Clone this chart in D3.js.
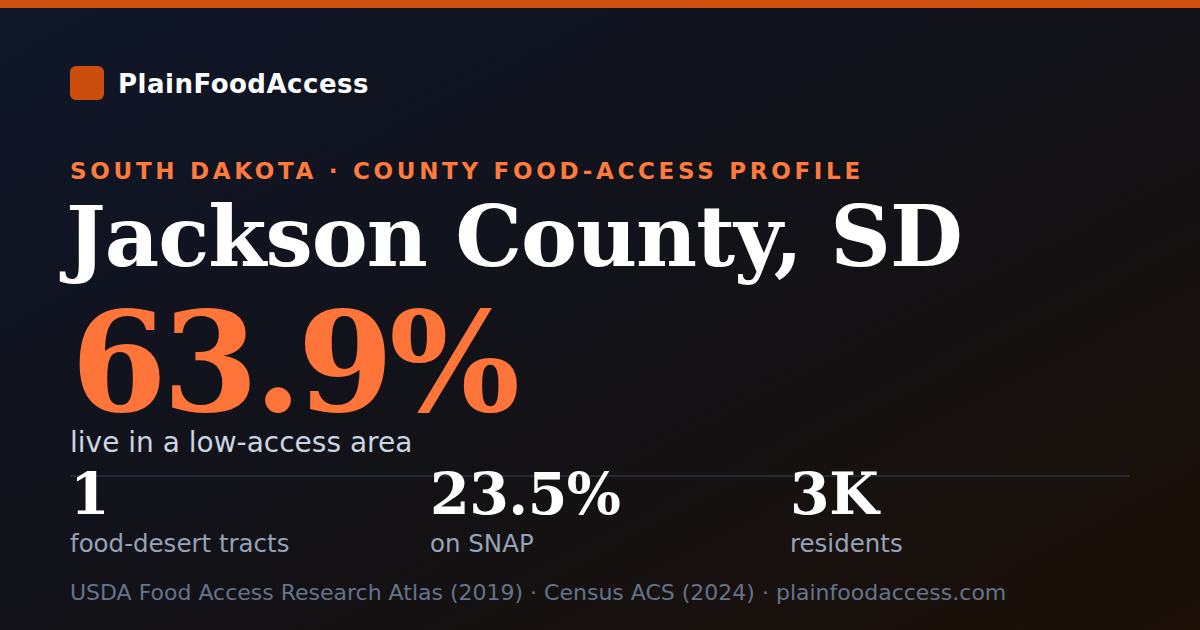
<!DOCTYPE html>
<html>
<head>
<meta charset="utf-8">
<script src="https://cdn.jsdelivr.net/npm/d3@7"></script>
<style>
  html, body { margin: 0; padding: 0; background: #0f172a; }
  svg { display: block; }
</style>
</head>
<body>
<svg id="card" width="1200" height="630"></svg>
<script>
const brand = "PlainFoodAccess";
const kicker = "SOUTH DAKOTA · COUNTY FOOD-ACCESS PROFILE";
const county = "Jackson County, SD";
const headline = "63.9%";
const headlineLabel = "live in a low-access area";
const statValues = ["1", "23.5%", "3K"];
const statLabels = ["food-desert tracts", "on SNAP", "residents"];
const sources = ["USDA Food Access Research Atlas (2019)", "Census ACS (2024)", "plainfoodaccess.com"];

const W = 1200, H = 630;
const SANS = "'DejaVu Sans', Verdana, sans-serif";
const SERIF = "'DejaVu Serif', Georgia, serif";

const svg = d3.select("#card");

const defs = svg.append("defs");
const grad = defs.append("linearGradient")
  .attr("id", "bg").attr("x1", 0).attr("y1", 0).attr("x2", 1).attr("y2", 1);
grad.append("stop").attr("offset", "0%").attr("stop-color", "#0f172a");
grad.append("stop").attr("offset", "50%").attr("stop-color", "#121218");
grad.append("stop").attr("offset", "100%").attr("stop-color", "#1c1007");

svg.append("rect").attr("width", W).attr("height", H).attr("fill", "url(#bg)");
svg.append("rect").attr("width", W).attr("height", 8).attr("fill", "#d0500e");

// brand
svg.append("rect").attr("x", 70).attr("y", 66).attr("width", 34).attr("height", 34)
  .attr("rx", 6).attr("fill", "#cc4e0c");
svg.append("text").attr("x", 118).attr("y", 93)
  .attr("font-family", SANS).attr("font-weight", "bold").attr("font-size", 26)
  .attr("letter-spacing", 0.5).attr("fill", "#ffffff").text(brand);

// kicker + title
svg.append("text").attr("x", 70).attr("y", 179)
  .attr("font-family", SANS).attr("font-weight", "bold").attr("font-size", 23)
  .attr("letter-spacing", 3.7).attr("fill", "#ff7a3d").text(kicker);

svg.append("text").attr("x", 66).attr("y", 266)
  .attr("font-family", SERIF).attr("font-weight", "bold").attr("font-size", 84)
  .attr("letter-spacing", -1).attr("fill", "#ffffff").text(county);

svg.append("text").attr("x", 71).attr("y", 411)
  .attr("font-family", SERIF).attr("font-weight", "bold").attr("font-size", 138)
  .attr("letter-spacing", -4.5).attr("fill", "#ff7438").text(headline);

svg.append("text").attr("x", 70).attr("y", 452)
  .attr("font-family", SANS).attr("font-size", 28)
  .attr("fill", "#cbd5e1").text(headlineLabel);

// divider
svg.append("line").attr("x1", 70).attr("x2", 1130).attr("y1", 476).attr("y2", 476)
  .attr("stroke", "#283040").attr("stroke-width", 2).attr("stroke-opacity", 0.8);

// stats row
const x = d3.scaleBand().domain(d3.range(statValues.length)).range([70, 1150]).paddingInner(0);

const stat = svg.selectAll("g.stat").data(statValues).join("g")
  .attr("class", "stat")
  .attr("transform", (d, i) => `translate(${x(i)},0)`);

stat.append("text").attr("y", 514)
  .attr("font-family", SERIF).attr("font-weight", "bold").attr("font-size", 57)
  .attr("letter-spacing", -0.5).attr("fill", "#ffffff").text((d) => d);

stat.append("text").attr("y", 552)
  .attr("font-family", SANS).attr("font-size", 24.5)
  .attr("fill", "#94a3b8").text((d, i) => statLabels[i]);

// footer
svg.append("text").attr("x", 70).attr("y", 600)
  .attr("font-family", SANS).attr("font-size", 22)
  .attr("fill", "#64748b").text(sources.join(" · "));
</script>
</body>
</html>
